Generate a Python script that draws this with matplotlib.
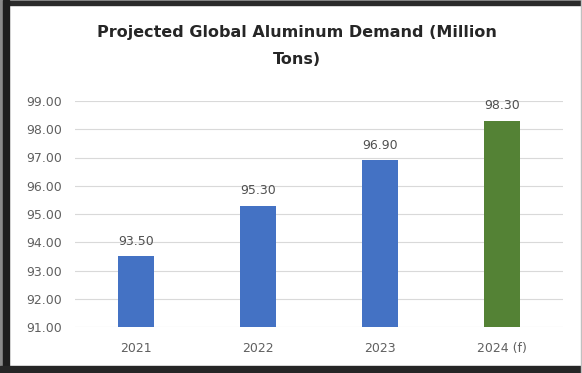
import matplotlib.pyplot as plt
from matplotlib.patches import Rectangle

years = ['2021', '2022', '2023', '2024 (f)']
demand = [93.50, 95.30, 96.90, 98.30]
bar_colors = ['#4472C4', '#4472C4', '#4472C4', '#548235']
y_ticks = [91, 92, 93, 94, 95, 96, 97, 98, 99]

plt.rcParams['font.family'] = ['DejaVu Sans']

W, H = 582, 373
fig = plt.figure(figsize=(W / 100, H / 100), dpi=100)
ax = fig.add_axes([75 / W, 46 / H, 488 / W, 226 / H])

x = range(len(years))
bars = ax.bar(x, demand, width=0.3, color=bar_colors, zorder=3)

for b, v in zip(bars, demand):
    ax.annotate(f'{v:.2f}', (b.get_x() + b.get_width() / 2, v),
                xytext=(0, 6), textcoords='offset points',
                ha='center', va='bottom', fontsize=9, color='#505050')

ax.set_ylim(91, 99)
ax.set_xlim(-0.5, 3.5)
ax.set_yticks(y_ticks)
ax.set_yticklabels([f'{t:.2f}' for t in y_ticks])
ax.set_xticks(list(x))
ax.set_xticklabels(years)
ax.tick_params(axis='both', length=0, labelsize=9, colors='#606060')
ax.tick_params(axis='y', pad=9)
ax.tick_params(axis='x', pad=11)
ax.grid(axis='y', color='#D9D9D9', linewidth=0.8, zorder=0)
for s in ax.spines.values():
    s.set_visible(False)

fig.text(297 / W, 1 - 32 / H, 'Projected Global Aluminum Demand (Million',
         ha='center', va='center', fontsize=11.5, fontweight='bold', color='#262626')
fig.text(297 / W, 1 - 60 / H, 'Tons)',
         ha='center', va='center', fontsize=11.5, fontweight='bold', color='#262626')

# dark frame around the chart
def band(x0, y0, w, h, c):
    fig.patches.append(Rectangle((x0 / W, 1 - (y0 + h) / H), w / W, h / H,
                                 transform=fig.transFigure, color=c, zorder=10))

band(0, 0, W, 1, '#9a9a9a')
band(0, 1, W, 4, '#2b2b2b')
band(0, 0, 3, H, '#8a8a8a')
band(3, 0, 6, H, '#1e1e1e')
band(0, 366, W, 7, '#262626')
band(581, 0, 1, H, '#c0c0c0')

fig.savefig('out.png', dpi=100)
